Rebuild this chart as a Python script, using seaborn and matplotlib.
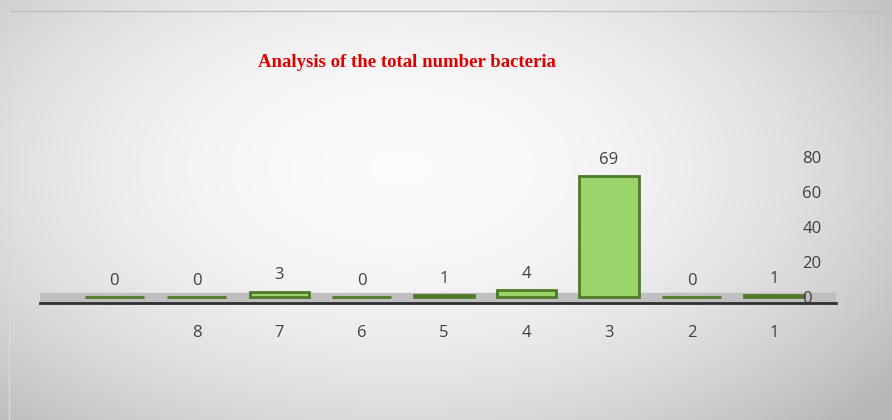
import numpy as np
import pandas as pd
import matplotlib
matplotlib.use("Agg")
import matplotlib.pyplot as plt
import seaborn as sns

# data
groups = ["9", "8", "7", "6", "5", "4", "3", "2", "1"]
tick_labels = ["", "8", "7", "6", "5", "4", "3", "2", "1"]
counts = [0, 0, 3, 0, 1, 4, 69, 0, 1]

df = pd.DataFrame({"group": groups, "count": counts})

sns.set_style("white")
plt.rcParams["font.family"] = ["Open Sans", "DejaVu Sans"]

fig = plt.figure(figsize=(8.92, 4.2), dpi=100)

# light grey radial background, white in the middle
bg = fig.add_axes([0, 0, 1, 1], zorder=-10)
yy, xx = np.mgrid[0:1:200j, 0:1:400j]
d = np.sqrt(((xx - 0.45) / 0.6) ** 2 + ((yy - 0.4) / 0.75) ** 2)
grey = np.clip(0.985 - 0.2 * d ** 2, 0.72, 1)
bg.imshow(np.dstack([grey, grey, grey]), aspect="auto",
          extent=[0, 1, 0, 1], origin="upper")
bg.plot([0.01, 1], [0.975, 0.975], color="#bfbfbf", lw=1)
bg.plot([0.01, 0.01], [0, 0.975], color="#d9d9d9", lw=1)
bg.set_xlim(0, 1)
bg.set_ylim(0, 1)
bg.axis("off")

ax = fig.add_axes([0.045, 0.279, 0.892, 0.39])
ax.set_facecolor("none")

sns.barplot(data=df, x="group", y="count", order=groups, color="#9bd46a",
            width=0.72, edgecolor="#4f7a28", linewidth=2, saturation=1,
            ax=ax, zorder=3)

ax.set_ylim(-3.4, 90)
ax.set_xlim(-0.9, 8.75)
ax.axhspan(-3.4, 2.3, color="#bfbfbf", zorder=1)

for c in ax.containers:
    ax.bar_label(c, labels=[str(v) for v in counts], padding=6,
                 fontsize=12, color="#404040")

ax.set_xticks(range(len(groups)))
ax.set_xticklabels(tick_labels, fontsize=12, color="#404040")
ax.tick_params(axis="x", length=0, pad=16)

ax.yaxis.tick_right()
ax.set_yticks([0, 20, 40, 60, 80])
ax.tick_params(axis="y", length=0, pad=-24, labelsize=12, labelcolor="#404040")
for lab in ax.get_yticklabels():
    lab.set_horizontalalignment("left")
ax.yaxis.set_zorder(5)

ax.set_xlabel("")
ax.set_ylabel("")
for s in ["top", "right", "left"]:
    ax.spines[s].set_visible(False)
ax.spines["bottom"].set_color("#303030")
ax.spines["bottom"].set_linewidth(2)

fig.text(0.456, 0.852, "Analysis of the total number bacteria",
         ha="center", va="center", color="#e00000", fontsize=13.5,
         fontweight="bold", family=["Liberation Serif", "DejaVu Serif"])

fig.savefig("out.png", dpi=100)
